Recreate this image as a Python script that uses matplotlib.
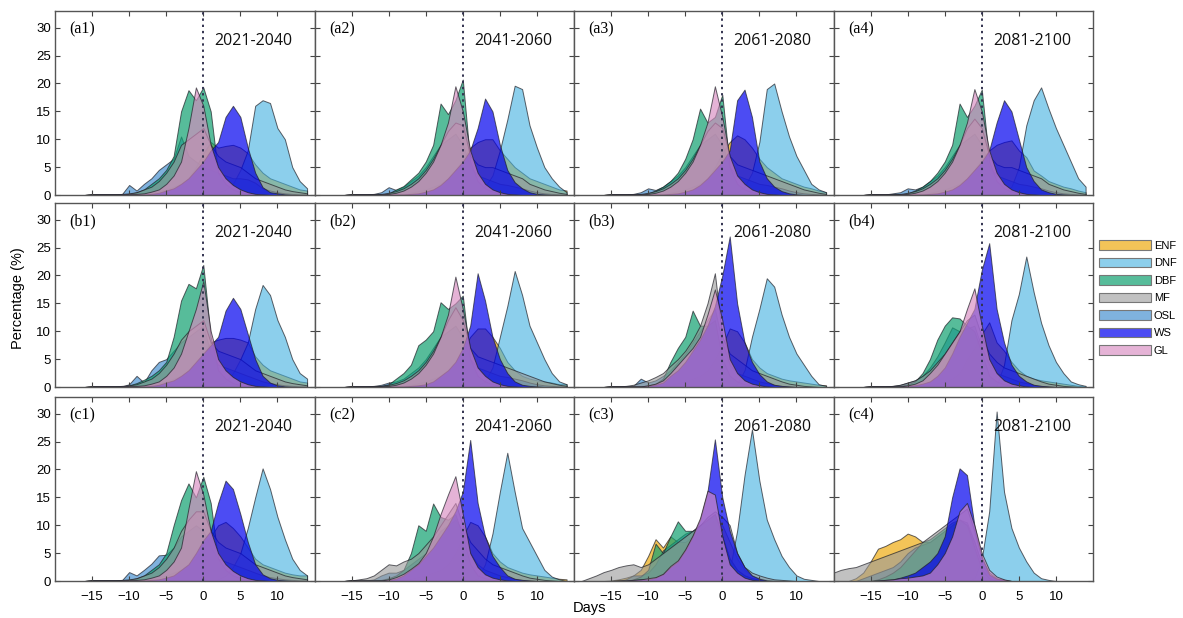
import numpy as np
import matplotlib.pyplot as plt
from matplotlib.patches import Patch

plt.rcParams['font.family'] = ['Liberation Sans', 'DejaVu Sans']

# days relative to reference (-20 ... 14), one value per day
days = np.arange(-20, 15)
types = ['ENF', 'DNF', 'DBF', 'MF', 'OSL', 'WS', 'GL']
draw_order = ['ENF', 'DNF', 'OSL', 'DBF', 'MF', 'WS', 'GL']
periods = ['2021-2040', '2041-2060', '2061-2080', '2081-2100']
row_ids = ['a', 'b', 'c']

# percentage values (days -20..14)
a1 = {
    'ENF': [0,0,0,0,0, 0.1,0.1,0.1,0.1,0.1, 0.1,0.1,0.2,0.4,0.7, 1,1.5,2,3,5, 7.5,9.5,8.5,8.8,9, 8.5,7.5,5.5,4,3, 2.5,2,1.5,1,0.8],
    'DNF': [0,0,0,0,0, 0,0,0,0,0, 0,0,0,0,0, 0,0,0,0,0, 0,0.2,0.5,1,2, 4.5,8,16,17,16.5, 12,10,5,2.5,1.2],
    'DBF': [0,0,0,0,0, 0.1,0.1,0.1,0.1,0.1, 0.2,0.5,1,2,3, 4.5,7,15,18.8,17, 19.3,15,4,2,1, 0.5,0.2,0.1,0,0, 0,0,0,0,0],
    'MF':  [0,0,0,0,0, 0.1,0.1,0.1,0.1,0.2, 0.3,0.5,1,1.5,2.5, 4,6,9,10,11, 12,9,7,6,5.5, 5,4,3,2.5,2, 1.5,1,0.7,0.5,0.3],
    'OSL': [0,0,0,0,0, 0.1,0.1,0.1,0.1,0.1, 1.8,0.8,2,3,4.5, 5.5,6.5,10.5,7,6, 5,4.5,4,3.5,3, 3,2.8,2.2,1.2,0.8, 0.5,0.3,0.2,0.1,0.1],
    'WS':  [0,0,0,0,0, 0.1,0.1,0.1,0.1,0.1, 0.1,0.1,0.1,0.2,0.4, 0.8,1.2,2,3,4.5, 6,8,9.5,14,16, 14,8.5,4,1.4,0.5, 0.3,0.1,0,0,0],
    'GL':  [0,0,0,0,0, 0.1,0.1,0.1,0.1,0.1, 0.2,0.2,0.3,0.6,1, 2,3.5,6,12,19.3, 16,9,5,3,1.8, 1,0.5,0.2,0.1,0, 0,0,0,0,0],
}
a2 = {
    'ENF': [0,0,0,0,0, 0.1,0.1,0.1,0.1,0.1, 0.1,0.1,0.2,0.4,0.7, 1,1.5,2,3,4.5, 6.5,8.5,9.5,10,10, 8,6.5,5,4,3, 2.5,2,1.5,1,0.8],
    'DNF': [0,0,0,0,0, 0,0,0,0,0, 0,0,0,0,0, 0,0,0,0,0, 0,0,0.5,1.5,3.5, 8,13.5,19.6,19,12.5, 8.5,5,3,1.5,0.5],
    'DBF': [0,0,0,0,0, 0.1,0.1,0.1,0.1,0.1, 0.3,1,1.6,2.8,4, 6,9,16.4,14.5,17, 20.7,6,2.5,1.2,0.6, 0.3,0.1,0,0,0, 0,0,0,0,0],
    'MF':  [0,0,0,0,0, 0.1,0.1,0.1,0.1,0.2, 0.4,0.7,1.2,2,3, 4.5,6.5,9,11.5,13, 12.5,7,5.5,5,5, 4.5,4,3.5,3,2, 1.5,1,0.7,0.4,0.2],
    'OSL': [0,0,0,0,0, 0.1,0.1,0.1,0.2,0.5, 1.4,0.9,1.5,2.5,3.5, 5,7,9,10,11, 9,5,3.5,3,2.5, 2,1.8,1.5,1.2,0.8, 0.5,0.3,0.2,0.1,0.1],
    'WS':  [0,0,0,0,0, 0.1,0.1,0.1,0.1,0.1, 0.1,0.1,0.1,0.2,0.3, 0.6,1,1.8,3,4.5, 6,8,12,17.3,15, 9,4.5,2.3,1.2,0.5, 0.2,0.1,0,0,0],
    'GL':  [0,0,0,0,0, 0.1,0.1,0.1,0.1,0.1, 0.2,0.4,0.8,1.5,2.5, 4,6,9,13,19.5, 15,8,4,2,1, 0.5,0.2,0.1,0,0, 0,0,0,0,0],
}
a3 = {
    'ENF': [0,0,0,0,0, 0.1,0.1,0.1,0.1,0.1, 0.1,0.1,0.2,0.4,0.7, 1,1.5,2,3,5, 7.5,9.5,10.7,10,8.5, 6.5,5,4,3,2.5, 2,1.5,1.2,0.8,0.5],
    'DNF': [0,0,0,0,0, 0,0,0,0,0, 0,0,0,0,0, 0,0,0,0,0, 0,0,0.5,1.5,4, 9.5,19,20,15,10.5, 7,4.5,2,1,0.5],
    'DBF': [0,0,0,0,0, 0.1,0.1,0.1,0.1,0.1, 0.3,0.8,1.5,2.5,4, 6.5,10,15.5,13,14, 18,5,2,1,0.5, 0.2,0.1,0,0,0, 0,0,0,0,0],
    'MF':  [0,0,0,0,0, 0.1,0.1,0.1,0.1,0.2, 0.4,0.7,1.2,2,3, 4.5,6.5,9,11.5,13, 12,7,5.5,5,4.5, 4,3.5,3,2.5,2, 1.5,1,0.7,0.4,0.2],
    'OSL': [0,0,0,0,0, 0.1,0.1,0.1,0.2,0.5, 1.2,0.9,1.5,2.5,3.5, 5,7,9,10,11, 9,5,3.5,3,2.5, 2,1.8,1.5,1.2,0.8, 0.5,0.3,0.2,0.1,0.1],
    'WS':  [0,0,0,0,0, 0.1,0.1,0.1,0.1,0.1, 0.1,0.1,0.1,0.2,0.3, 0.6,1,1.8,3,4.5, 6,8,17,18.9,14, 6,3,1.5,0.7,0.3, 0.1,0,0,0,0],
    'GL':  [0,0,0,0,0, 0.1,0.1,0.1,0.1,0.1, 0.2,0.4,0.8,1.5,2.5, 4,6,9,13,19.5, 14,7,3.5,2,1, 0.5,0.2,0.1,0,0, 0,0,0,0,0],
}
a4 = {
    'ENF': [0,0,0,0,0, 0.1,0.1,0.1,0.1,0.1, 0.1,0.1,0.2,0.4,0.7, 1,1.5,2,3,4.5, 6.5,8,9,9.5,9.8, 8,6.8,4.4,3.5,2.5, 2,1.5,1.2,0.8,0.5],
    'DNF': [0,0,0,0,0, 0,0,0,0,0, 0,0,0,0,0, 0,0,0,0,0, 0,0,0,0.5,1.5, 5,12.5,17,19.3,15.5, 12,9,6,3,1.5],
    'DBF': [0,0,0,0,0, 0.1,0.1,0.1,0.1,0.1, 0.3,0.8,1.5,2.5,4, 6,9,16.4,14,16, 18.9,6,2.5,1.2,0.6, 0.3,0.1,0,0,0, 0,0,0,0,0],
    'MF':  [0,0,0,0,0, 0.1,0.1,0.1,0.1,0.2, 0.4,0.7,1.2,2,3, 4.5,6.5,9,12,13.7, 12,7,5.5,5,5, 4.5,4,3.5,3,2, 1.5,1,0.7,0.4,0.2],
    'OSL': [0,0,0,0,0, 0.1,0.1,0.1,0.3,0.5, 1.2,1,1.5,2.5,3.5, 5,7,9,10,11, 9,5,3.5,3,2.5, 2,1.8,1.5,1.2,0.8, 0.5,0.3,0.2,0.1,0.1],
    'WS':  [0,0,0,0,0, 0.1,0.1,0.1,0.1,0.1, 0.1,0.1,0.1,0.2,0.3, 0.6,1,1.8,3,4.5, 6,8,13,17,15, 10,5,2.5,1,0.5, 0.2,0.1,0,0,0],
    'GL':  [0,0,0,0,0, 0.1,0.1,0.1,0.1,0.1, 0.2,0.4,0.8,1.5,2.5, 4,6,9,13,19, 15,8,4,2,1, 0.5,0.2,0.1,0,0, 0,0,0,0,0],
}
b1 = {
    'ENF': [0,0,0,0,0, 0.1,0.1,0.1,0.1,0.1, 0.1,0.1,0.2,0.4,0.7, 1,1.5,2,3,4, 6,8,8.5,8.8,8.8, 8.5,8,5.5,4,3, 2.5,2,1.5,1,0.8],
    'DNF': [0,0,0,0,0, 0,0,0,0,0, 0,0,0,0,0, 0,0,0,0,0, 0,0,0.3,1,2.5, 5,8,14,18.3,16.5, 12,9,5,2.5,1.5],
    'DBF': [0,0,0,0,0, 0.1,0.1,0.1,0.1,0.1, 0.3,0.7,1.3,2,3, 4.5,9,15.5,18.5,17.7, 21.9,9,3,1.5,0.7, 0.3,0.1,0,0,0, 0,0,0,0,0],
    'MF':  [0,0,0,0,0, 0.1,0.1,0.1,0.1,0.2, 0.3,0.5,1,1.5,2.5, 4,6,8.5,10,11, 12,8,6.5,6,5.5, 5,4,3,2.5,2, 1.5,1,0.7,0.5,0.3],
    'OSL': [0,0,0,0,0, 0.1,0.1,0.1,0.1,0.1, 0.5,2,0.8,3,4.5, 5,6.5,8,9,10, 11,6,4,3.5,3, 2.5,2,1.5,1,0.7, 0.5,0.3,0.2,0.1,0.1],
    'WS':  [0,0,0,0,0, 0.1,0.1,0.1,0.1,0.1, 0.1,0.1,0.1,0.2,0.4, 0.8,1.2,2,3,4.5, 6,7.5,9,13.7,16, 14,9.5,5,2,0.8, 0.3,0.1,0,0,0],
    'GL':  [0,0,0,0,0, 0.1,0.1,0.1,0.1,0.1, 0.2,0.2,0.3,0.6,1, 2,3.5,6,10,14, 19,10,5,3,1.8, 1,0.5,0.2,0.1,0, 0,0,0,0,0],
}
b2 = {
    'ENF': [0,0,0,0,0, 0.1,0.1,0.1,0.1,0.1, 0.1,0.1,0.2,0.4,0.7, 1,1.5,2,3,4, 6.5,9,10.5,10.5,9, 7,4.5,3,2,1.5, 1.2,1,0.8,0.5,0.5],
    'DNF': [0,0,0,0,0, 0,0,0,0,0, 0,0,0,0,0, 0,0,0,0,0, 0,0,0.3,1,3.5, 9,14.5,20.8,16.5,11, 8,5,2.5,1,0.5],
    'DBF': [0,0,0,0,0, 0.1,0.1,0.1,0.1,0.2, 0.5,1.5,2.5,4,7.5, 8.5,10,15.2,14,15, 16.4,5,2,1,0.5, 0.2,0.1,0,0,0, 0,0,0,0,0],
    'MF':  [0,0,0,0,0, 0.1,0.1,0.1,0.1,0.2, 0.4,0.7,1.2,2,3, 4.5,6.5,9,12,14.3, 12,7,5.5,5,4.5, 4,3.5,3,2.5,2, 1.5,1,0.7,0.4,0.2],
    'OSL': [0,0,0,0,0, 0.1,0.1,0.1,0.2,0.4, 0.8,1,1.5,2.5,3.5, 5,7,9,10,11, 9,5,3.5,3,2.5, 2,1.8,1.5,1.2,0.8, 0.5,0.3,0.2,0.1,0.1],
    'WS':  [0,0,0,0,0, 0.1,0.1,0.1,0.1,0.1, 0.1,0.1,0.1,0.2,0.3, 0.5,1,2,3,4.5, 7,11,20.4,15.5,9, 5,2.5,1,0.4,0.2, 0.1,0,0,0,0],
    'GL':  [0,0,0,0,0, 0.1,0.1,0.1,0.1,0.1, 0.2,0.4,0.8,1.5,2.5, 4,6,9,13,19.8, 14,7,3.5,2,1, 0.5,0.2,0.1,0,0, 0,0,0,0,0],
}
b3 = {
    'ENF': [0,0,0,0,0, 0.1,0.1,0.1,0.1,0.1, 0.1,0.1,0.2,0.4,0.7, 1,1.5,2,3,5, 7.5,10.5,10,8,5, 3.5,2.5,2,1.5,1.2, 1,0.8,0.6,0.4,0.3],
    'DNF': [0,0,0,0,0, 0,0,0,0,0, 0,0,0,0,0, 0,0,0,0,0, 0,0,0.5,3,9, 14,19.5,18,13,9, 6,4,2,0.5,0.2],
    'DBF': [0,0,0,0,0, 0.1,0.1,0.1,0.1,0.1, 0.3,0.6,1.5,4.5,7, 9,13.7,11,11,12, 5,2,1,0.5,0.2, 0.1,0,0,0,0, 0,0,0,0,0],
    'MF':  [0,0,0,0,0, 0.1,0.1,0.2,0.4,0.8, 1.2,1.8,2.5,3.8,5, 6.5,8.5,11,15,20.4, 9,6,5,4,3, 2.5,2,1.5,1,0.6, 0.4,0.2,0.1,0,0],
    'OSL': [0,0,0,0,0, 0.1,0.1,0.1,0.2,1.5, 0.8,1.2,2,3,4.5, 6,8,10,12,14, 8,4,2.5,2,1.5, 1,0.7,0.4,0.2,0.1, 0,0,0,0,0],
    'WS':  [0,0,0,0,0, 0.1,0.1,0.1,0.1,0.1, 0.2,0.4,0.8,2,3, 4.5,6.5,8.5,11,14.5, 20,27,15,8,4.5, 2.3,1,0.4,0.2,0.1, 0,0,0,0,0],
    'GL':  [0,0,0,0,0, 0.1,0.1,0.1,0.1,0.1, 0.3,0.6,1.2,2.5,4, 5.5,7,9,13,17.5, 12,5,2.5,1.2,0.6, 0.3,0.1,0,0,0, 0,0,0,0,0],
}
b4 = {
    'ENF': [0,0,0,0,0, 0.1,0.1,0.1,0.1,0.1, 0.1,0.1,0.2,0.4,0.7, 1,1.5,2.5,5,7, 9.5,11.6,8,6.5,4.5, 3,2,1.5,1.2,1, 0.8,0.6,0.4,0.2,0.1],
    'DNF': [0,0,0,0,0, 0,0,0,0,0, 0,0,0,0,0, 0,0,0,0,0, 0,0,0.3,4,12, 16.7,23.4,17,11.5,7.5, 4.5,2.5,1,0.5,0.2],
    'DBF': [0,0,0,0,0, 0.1,0.1,0.1,0.1,0.2, 0.5,1,2.5,5,8.5, 11,12.5,12.3,11,10, 6,2,1,0.5,0.2, 0.1,0,0,0,0, 0,0,0,0,0],
    'MF':  [0,0,0,0,0, 0.1,0.1,0.1,0.2,0.4, 0.8,1.2,2,3,4.5, 6,8,10,12,13, 9,6,4.5,3.5,3, 2.5,2,1.5,1,0.6, 0.4,0.2,0.1,0,0],
    'OSL': [0,0,0,0,0, 0.1,0.1,0.1,0.2,0.4, 0.8,1.2,2,3.5,5.5, 8,10.7,10,10.5,11, 7,4,2.5,2,1.5, 1,0.7,0.4,0.2,0.1, 0,0,0,0,0],
    'WS':  [0,0,0,0,0, 0.1,0.1,0.1,0.1,0.1, 0.2,0.3,0.6,1,2, 3.5,6,9,11.5,14, 21,25.8,14,8,4, 2,1,0.4,0.2,0.1, 0,0,0,0,0],
    'GL':  [0,0,0,0,0, 0.1,0.1,0.1,0.1,0.1, 0.3,0.6,1.2,2.5,4, 6,8,10,14,17.7, 11,5,2.5,1.2,0.6, 0.3,0.1,0,0,0, 0,0,0,0,0],
}
c1 = {
    'ENF': [0,0,0,0,0, 0.1,0.1,0.1,0.1,0.1, 0.1,0.1,0.2,0.4,0.7, 1,1.5,2,3,4, 6,8,10,10.6,9.5, 8,6,4,3,2.5, 2,1.5,1.2,1,1],
    'DNF': [0,0,0,0,0, 0,0,0,0,0, 0,0,0,0,0, 0,0,0,0,0, 0,0,0.3,1,2.5, 5,9.5,15,20.2,16.5, 11.5,7.5,4,2,1],
    'DBF': [0,0,0,0,0, 0.1,0.1,0.1,0.1,0.1, 0.2,0.5,1,2,3, 5,10,14.5,17.5,15, 18.7,14,4,2,1, 0.5,0.2,0.1,0,0, 0,0,0,0,0],
    'MF':  [0,0,0,0,0, 0.1,0.1,0.1,0.1,0.2, 0.3,0.5,1,1.5,2.5, 4,6,9,11,12.5, 12.5,9,7,6,5.5, 5,4,3,2.5,2, 1.5,1,0.7,0.5,0.3],
    'OSL': [0,0,0,0,0, 0.1,0.1,0.1,0.1,0.1, 1.6,1,2,3.1,4.6, 4.7,6,8,9,10, 9,6,4,3.5,3, 2.5,2,1.5,1,0.7, 0.5,0.3,0.2,0.1,0.1],
    'WS':  [0,0,0,0,0, 0.1,0.1,0.1,0.1,0.1, 0.1,0.1,0.1,0.2,0.3, 0.6,1,2,3,5, 7.3,9,14,18,16.5, 12,7,3,1.2,0.5, 0.2,0.1,0,0,0],
    'GL':  [0,0,0,0,0, 0.1,0.1,0.1,0.1,0.1, 0.2,0.2,0.3,0.6,1, 2,3.5,6,13,19.7, 15.5,9,5,3,1.8, 1,0.5,0.2,0.1,0, 0,0,0,0,0],
}
c2 = {
    'ENF': [0,0,0,0,0, 0.1,0.1,0.1,0.1,0.1, 0.1,0.1,0.2,0.4,0.7, 1,1.5,2,3,5, 8,10.6,10,8,5, 3.5,2.5,2,1.5,1.2, 1,0.8,0.6,0.4,0.3],
    'DNF': [0,0,0,0,0, 0,0,0,0,0, 0,0,0,0,0, 0,0,0,0,0, 0,0,0.5,3,8.5, 16,23,16,9.5,7, 4.5,2,0.8,0.3,0],
    'DBF': [0,0,0,0,0, 0.1,0.1,0.1,0.1,0.2, 0.5,1,2,5,10, 9,13.9,11.5,11,12, 8,3,1,0.5,0.2, 0.1,0,0,0,0, 0,0,0,0,0],
    'MF':  [0,0,0,0,0, 0.1,0.3,0.5,1,2, 3,2.8,3.5,4,5, 6.5,8,10,12,14, 10,7,5.5,4,3, 2.5,2,1.5,1,0.6, 0.4,0.2,0.1,0,0],
    'OSL': [0,0,0,0,0, 0.1,0.1,0.1,0.3,1, 1.5,1.5,2,3,4, 5,7,9,10,11, 9,5,3,2,1.5, 1,0.7,0.4,0.2,0.1, 0,0,0,0,0],
    'WS':  [0,0,0,0,0, 0.1,0.1,0.1,0.1,0.1, 0.2,0.4,1,2,3, 4.5,6,8,10,12.5, 16,25.3,14,8,4.5, 2.5,1,0.4,0.2,0.1, 0,0,0,0,0],
    'GL':  [0,0,0,0,0, 0.1,0.1,0.1,0.1,0.1, 0.3,0.7,1.3,2.2,3.2, 5,8,12,15.5,18.8, 12,5,2.5,1.2,0.6, 0.3,0.1,0,0,0, 0,0,0,0,0],
}
c3 = {
    'ENF': [0,0,0,0,0, 0.1,0.3,0.6,1,2, 4.5,7.5,6,8,7, 7,8,9,10,11, 10,7,4,2,1, 0.5,0.2,0.1,0,0, 0,0,0,0,0],
    'DNF': [0,0,0,0,0, 0,0,0,0,0, 0,0,0,0,0, 0,0,0,0,0, 0.5,2,9,19,27.2, 18,11,7.5,4.5,2.5, 1,0.4,0.2,0,0],
    'DBF': [0,0,0,0,0, 0,0,0,0.3,0.8, 2,6.7,5,8,10.7, 9,9,10,11,12, 8,4,2,1,0.5, 0.2,0,0,0,0, 0,0,0,0,0],
    'MF':  [0,0,0.5,1,1.6, 2,2.5,2.8,3,2.5, 3,4,5,6,7, 8,9,10,11.5,12.5, 11.5,10,5,2.5,1.5, 1,0.6,0.3,0.2,0.1, 0,0,0,0,0],
    'OSL': [0,0,0,0,0, 0,0,0.3,1,1, 1.5,3,5.5,6.5,7.5, 8.5,9,10,11,12, 8,4,2,1,0.5, 0.2,0,0,0,0, 0,0,0,0,0],
    'WS':  [0,0,0,0,0, 0,0.1,0.1,0.2,0.3, 0.3,0.6,1.2,2.5,3.5, 5.5,8,11,16,25.4, 15,9,5,2.5,1, 0.4,0.1,0,0,0, 0,0,0,0,0],
    'GL':  [0,0,0,0,0, 0,0.1,0.1,0.2,0.3, 0.5,0.7,1.3,2.7,3.7, 5.7,8.2,11.3,16.2,15.5, 8,3,1.5,0.6,0.2, 0.1,0,0,0,0, 0,0,0,0,0],
}
c4 = {
    'ENF': [0,0,0,0.5,1.5, 3.5,5.8,6.3,7,7.5, 8.5,8,7,7,8, 9,10,11,10,7, 3,1,0.3,0,0, 0,0,0,0,0, 0,0,0,0,0],
    'DNF': [0,0,0,0,0, 0,0,0,0,0, 0,0,0,0,0, 0,0,0,0,0.5, 4,12.5,30.4,16,9.5, 6,3.5,1.5,0.5,0.2, 0,0,0,0,0],
    'DBF': [0,0,0,0,0, 0,0.3,0.8,1.5,2.5, 4,5.5,7,7.5,8.5, 9.5,10.5,11,10,6, 2,0.5,0.1,0,0, 0,0,0,0,0, 0,0,0,0,0],
    'MF':  [1.5,2,2.3,2.5,3, 3.5,4,4.5,5,5.5, 6,6.5,7,8,9, 10,11,12,13,9, 4,1.5,0.5,0.2,0, 0,0,0,0,0, 0,0,0,0,0],
    'OSL': [0,0,0,0,0.5, 1,1.5,2,2.5,3.5, 5,6,6.5,7,8, 9,10,11,10.5,7, 3,1,0.3,0,0, 0,0,0,0,0, 0,0,0,0,0],
    'WS':  [0,0,0,0,0, 0,0.1,0.2,0.3,0.6, 1,1.5,2.5,3.5,5, 8,15,20.2,19,10, 4.3,1.2,0.4,0.2,0, 0,0,0,0,0, 0,0,0,0,0],
    'GL':  [0,0,0,0,0, 0,0.1,0.2,0.3,0.5, 0.6,0.8,1,1.5,3, 5,8,12.5,14,10, 5,2,0.8,0.3,0, 0,0,0,0,0, 0,0,0,0,0],
}

panels = [[a1, a2, a3, a4], [b1, b2, b3, b4], [c1, c2, c3, c4]]

face = {'ENF': ('#f0b020', 0.75), 'DNF': ('#3fb0e0', 0.6), 'DBF': ('#10a070', 0.7),
        'MF': ('#999999', 0.6), 'OSL': ('#2a80c8', 0.6), 'WS': ('#0000ee', 0.7),
        'GL': ('#d88bc0', 0.65)}

W, H = 1183, 618
fig = plt.figure(figsize=(W / 100, H / 100), dpi=100)

left, colw = 55, 259.5
tops = [11, 203, 397]
rowh = 184

handles = [Patch(facecolor=plt.matplotlib.colors.to_rgba(*face[t]), edgecolor='#777777',
                 linewidth=0.8, label=t) for t in types]

for r in range(3):
    for c in range(4):
        ax = fig.add_axes([(left + c * colw) / W, 1 - (tops[r] + rowh) / H, colw / W, rowh / H])
        data = panels[r][c]
        for t in draw_order:
            rgba = plt.matplotlib.colors.to_rgba(*face[t])
            ax.fill_between(days, data[t], 0, facecolor=rgba,
                            edgecolor=(0.12, 0.12, 0.15, 0.7), linewidth=0.7)
        ax.axvline(0, color='#333350', linestyle=(0, (1.2, 2)), linewidth=1.4, zorder=5)
        ax.set_xlim(-20, 15)
        ax.set_ylim(0, 33)
        ax.set_xticks([-15, -10, -5, 0, 5, 10])
        ax.set_yticks([0, 5, 10, 15, 20, 25, 30])
        ax.tick_params(direction='in', top=True, right=True, length=3.5, width=0.8,
                       color='#444444', labelsize=9.5, pad=3)
        if c > 0:
            ax.tick_params(labelleft=False)
        if r < 2:
            ax.tick_params(labelbottom=False)
        else:
            ax.tick_params(axis='x', pad=7)
        for s in ax.spines.values():
            s.set_color('#555555')
            s.set_linewidth(1.0)
        ax.text(0.055, 0.9, '(%s%d)' % (row_ids[r], c + 1), transform=ax.transAxes,
                fontsize=11.5, family=['Liberation Serif', 'DejaVu Serif'], va='center', ha='left')
        ax.text(0.765, 0.835, periods[c], transform=ax.transAxes, fontsize=11.5,
                family=['Open Sans', 'DejaVu Sans'], va='center', ha='center', color='#111111')

fig.text(590 / W, 1 - 608 / H, 'Days', ha='center', va='center', fontsize=10.5)
fig.text(18 / W, 1 - 298 / H, 'Percentage (%)', ha='center', va='center', rotation=90, fontsize=10.5)

fig.legend(handles=handles, loc='upper left', bbox_to_anchor=(1099 / W, 1 - 240 / H),
           frameon=False, fontsize=8, handlelength=4.7, handleheight=0.95,
           labelspacing=0.62, handletextpad=0.25, borderpad=0, borderaxespad=0)

fig.savefig('out.png', dpi=100)
